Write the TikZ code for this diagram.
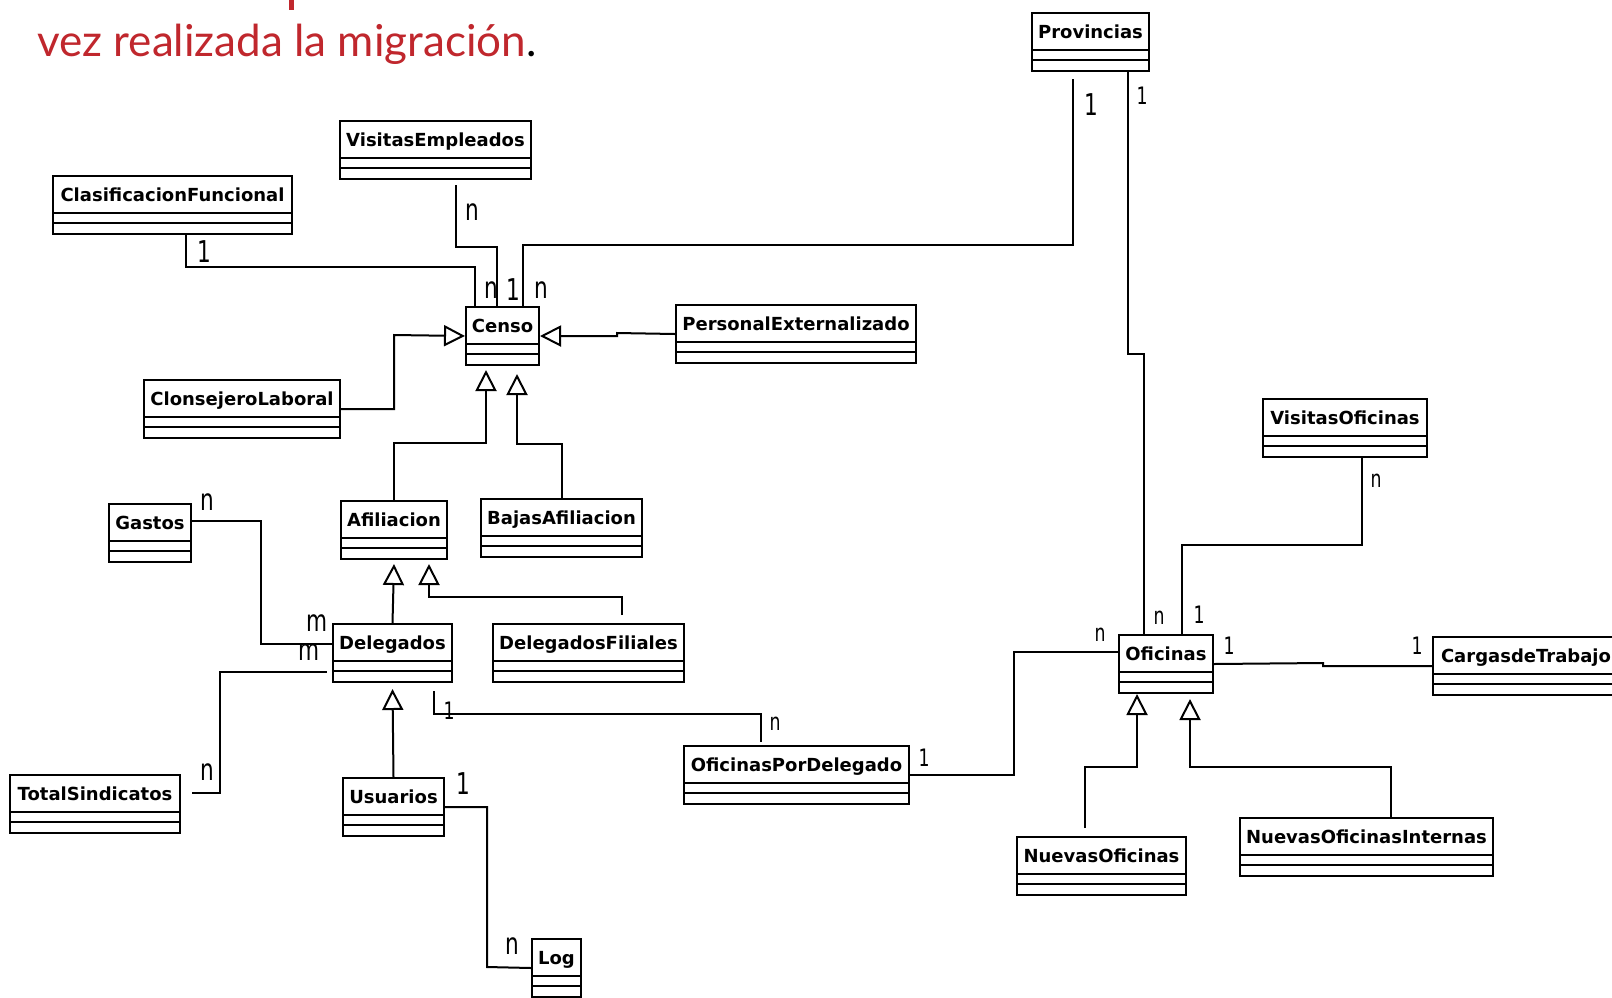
\documentclass[tikz,border=0pt]{standalone}
\usepackage{fontspec}
\usetikzlibrary{arrows.meta}
\newfontfamily\umlfont{DejaVu Sans}
\newfontfamily\multfont[FakeStretch=0.72]{DejaVu Sans}
\newfontfamily\headfont{Lato}
\definecolor{headred}{RGB}{192,39,45}
\begin{document}
\begin{tikzpicture}[x=1pt, y=-1pt,
    umlclass/.style={draw, line width=2pt, anchor=north west, inner sep=0pt,
        minimum height=58pt, text height=25pt, text depth=33pt,
        font=\umlfont\bfseries\fontsize{18}{20}\selectfont,
        path picture={
            \draw[line width=2.2pt] ([yshift=-37pt]path picture bounding box.north west) -- ([yshift=-37pt]path picture bounding box.north east);
            \draw[line width=2.2pt] ([yshift=-47pt]path picture bounding box.north west) -- ([yshift=-47pt]path picture bounding box.north east);
        }},
    assoc/.style={line width=2pt},
    gen/.style={line width=2pt, -{Triangle[open, length=21pt, width=21pt]}},
    mult/.style={inner sep=0pt, font=\multfont\fontsize{24}{24}\selectfont},
    bigmult/.style={inner sep=0pt, font=\multfont\fontsize{30}{30}\selectfont}]
    \useasboundingbox (0,0) rectangle (1612,997);
    \fill[white] (0,0) rectangle (1612,997);

    \fill[headred] (289,0) rectangle (293.5,10);
    \node[anchor=base west, inner sep=0pt, text=headred, font=\headfont\fontsize{44}{44}\selectfont] (titulo) at (37,56) {vez realizada la migración\textcolor{black}{.}};

    \node[umlclass, minimum width=117pt] (prov) at (1031,12) {Provincias};
    \node[umlclass, minimum width=191pt] (visemp) at (339,120) {VisitasEmpleados};
    \node[umlclass, minimum width=239pt] (clasif) at (52,175) {ClasificacionFuncional};
    \node[umlclass, minimum width=73pt] (censo) at (465,306) {Censo};
    \node[umlclass, minimum width=240pt] (persext) at (675,304) {PersonalExternalizado};
    \node[umlclass, minimum width=196pt] (consej) at (143,379) {ClonsejeroLaboral};
    \node[umlclass, minimum width=164pt] (visofi) at (1262,398) {VisitasOficinas};
    \node[umlclass, minimum width=82pt] (gastos) at (108,503) {Gastos};
    \node[umlclass, minimum width=106pt] (afil) at (340,500) {Afiliacion};
    \node[umlclass, minimum width=161pt] (bajas) at (480,498) {BajasAfiliacion};
    \node[umlclass, minimum width=119pt] (deleg) at (332,623) {Delegados};
    \node[umlclass, minimum width=191pt] (delfil) at (492,623) {DelegadosFiliales};
    \node[umlclass, minimum width=94pt] (ofic) at (1118,634) {Oficinas};
    \node[umlclass, minimum width=186pt] (cargas) at (1432,636) {CargasdeTrabajo};
    \node[umlclass, minimum width=225pt] (ofdel) at (683,745) {OficinasPorDelegado};
    \node[umlclass, minimum width=170pt] (totsin) at (9,774) {TotalSindicatos};
    \node[umlclass, minimum width=101pt] (usu) at (342,777) {Usuarios};
    \node[umlclass, minimum width=169pt] (nuevof) at (1016,836) {NuevasOficinas};
    \node[umlclass, minimum width=253pt] (nuevint) at (1239,817) {NuevasOficinasInternas};
    \node[umlclass, minimum width=49pt] (log) at (531,938) {Log};

    \draw[assoc] ([xshift=134pt]clasif.south west) |- (475,267) -- ([xshift=10pt]censo.north west);
    \draw[assoc] ([xshift=117pt,yshift=-5pt]visemp.south west) |- (497,247) -- ([xshift=32pt]censo.north west);
    \draw[assoc] ([xshift=42pt,yshift=-7pt]prov.south west) |- (523,245) -- ([xshift=58pt]censo.north west);
    \draw[gen] (persext.west) -- (617,333) |- (censo.east);
    \draw[gen] (consej.east) -| (394,335) -- (censo.west);
    \draw[gen] (afil.north) |- (486,443) -- ([xshift=21pt,yshift=-4pt]censo.south west);
    \draw[gen] (bajas.north) |- (517,444) -- ([xshift=52pt,yshift=-8pt]censo.south west);
    \draw[assoc] ([xshift=97pt]prov.south west) |- (1144,354) -- ([xshift=26pt]ofic.north west);
    \draw[assoc] ([xshift=100pt]visofi.south west) |- (1182,545) -- ([xshift=64pt]ofic.north west);
    \draw[assoc] (ofic.east) -- (1323,663) |- (cargas.west);
    \draw[assoc] (ofdel.east) -| (1014,652) -- ([yshift=-18pt]ofic.north west);
    \draw[assoc] ([xshift=102pt,yshift=-8pt]deleg.south west) |- (761,714) -- ([xshift=78pt,yshift=3pt]ofdel.north west);
    \draw[assoc] ([yshift=-18pt]gastos.north east) -| (261,644) -- ([yshift=-21pt]deleg.north west);
    \draw[assoc] ([xshift=11pt,yshift=-19pt]totsin.north east) -| (220,672) -- ([xshift=-5pt,yshift=-49pt]deleg.north west);
    \draw[gen] (deleg.north) -- ([yshift=-4pt]afil.south);
    \draw[gen] ([xshift=130pt,yshift=8pt]delfil.north west) |- (429,597) -- ([xshift=89pt,yshift=-4pt]afil.south west);
    \draw[gen] (usu.north) -- ([yshift=-6pt]deleg.south);
    \draw[assoc] (usu.east) -| (487,967) -- (log.west);
    \draw[gen] ([xshift=69pt,yshift=8pt]nuevof.north west) |- (1137,767) -- ([xshift=19pt]ofic.south west);
    \draw[gen] ([xshift=152pt]nuevint.north west) |- (1190,767) -- ([xshift=72pt,yshift=-5pt]ofic.south west);

    \node[bigmult] (m1) at (204,252) {1};
    \node[bigmult] (m2) at (472,212) {n};
    \node[bigmult] (m3) at (491,290) {n};
    \node[bigmult] (m4) at (513,290) {1};
    \node[bigmult] (m5) at (541,290) {n};
    \node[bigmult] (m6) at (1091,105) {1};
    \node[mult] (m7) at (1142,96) {1};
    \node[bigmult] (m8) at (207,502) {n};
    \node[bigmult] (m9) at (317,623) {m};
    \node[bigmult] (m10) at (309,652) {m};
    \node[bigmult] (m11) at (207,772) {n};
    \node[mult] (m12) at (449,711) {1};
    \node[bigmult] (m13) at (463,784) {1};
    \node[bigmult] (m14) at (512,946) {n};
    \node[mult] (m15) at (775,724) {n};
    \node[mult] (m16) at (924,758) {1};
    \node[mult] (m17) at (1100,635) {n};
    \node[mult] (m18) at (1159,618) {n};
    \node[mult] (m19) at (1199,615) {1};
    \node[mult] (m20) at (1229,646) {1};
    \node[mult] (m21) at (1417,646) {1};
    \node[mult] (m22) at (1376,481) {n};
\end{tikzpicture}
\end{document}
